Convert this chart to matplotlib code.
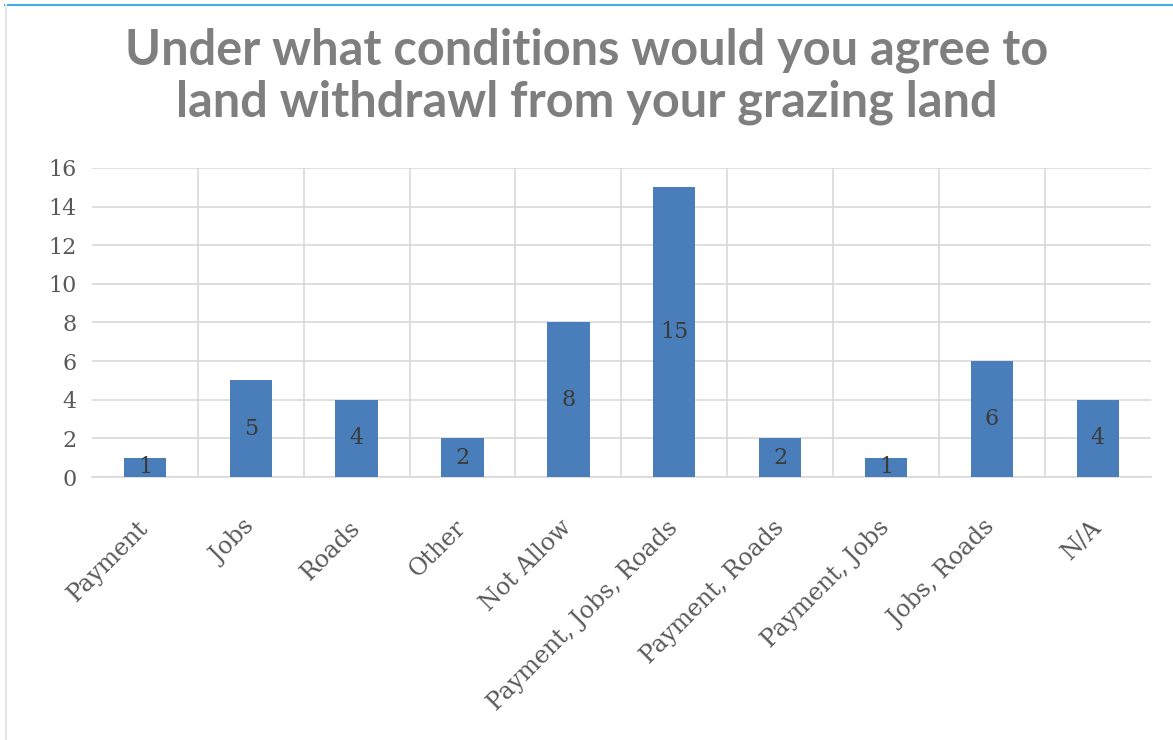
import matplotlib.pyplot as plt
from matplotlib.lines import Line2D
from matplotlib.transforms import ScaledTranslation

# data
categories = ['Payment', 'Jobs', 'Roads', 'Other', 'Not Allow',
              'Payment, Jobs, Roads', 'Payment, Roads', 'Payment, Jobs',
              'Jobs, Roads', 'N/A']
counts = [1, 5, 4, 2, 8, 15, 2, 1, 6, 4]
yticks = [0, 2, 4, 6, 8, 10, 12, 14, 16]

serif = 'DejaVu Serif'

fig = plt.figure(figsize=(11.73, 7.40), dpi=100)
ax = fig.add_axes([0.0784, 0.3554, 0.9026, 0.4176])

x = range(len(categories))
bars = ax.bar(x, counts, width=0.4, color='#4A7EBB', zorder=3)

# value labels sit in the middle of each bar
for rect, v in zip(bars, counts):
    ax.text(rect.get_x() + rect.get_width() / 2, v / 2, str(v),
            ha='center', va='center', fontsize=16, color='#3a3a3a',
            family=serif, zorder=4)

ax.set_xlim(-0.5, len(categories) - 0.5)
ax.set_ylim(0, 16)
ax.set_yticks(yticks)
ax.set_yticklabels([str(t) for t in yticks], family=serif,
                   fontsize=16, color='#595959')

# vertical gridlines between categories
ax.set_xticks([i + 0.5 for i in range(len(categories) - 1)], minor=True)
ax.grid(True, which='minor', axis='x', color='#d9d9d9', lw=1.2, zorder=0)
ax.grid(True, which='major', axis='y', color='#d9d9d9', lw=1.2, zorder=0)

ax.set_xticks(list(x))
ax.set_xticklabels(categories, rotation=45, ha='right', va='center',
                   rotation_mode='anchor', family=serif, fontsize=17,
                   color='#595959')
shift = ScaledTranslation(-6 / 100, 0, fig.dpi_scale_trans)
for lbl in ax.get_xticklabels():
    lbl.set_transform(lbl.get_transform() + shift)
ax.tick_params(axis='both', which='both', length=0)
ax.tick_params(axis='x', pad=34)
ax.tick_params(axis='y', pad=11)

for s in ['top', 'right', 'left']:
    ax.spines[s].set_visible(False)
ax.spines['bottom'].set_color('#d9d9d9')
ax.spines['bottom'].set_linewidth(1.2)

fig.text(0.5, 0.897, 'Under what conditions would you agree to\nland withdrawl from your grazing land',
         ha='center', va='center', fontsize=35, fontweight='bold',
         color='#7f7f7f', family='Lato', linespacing=1.2)

# faint frame of the original screenshot
fig.add_artist(Line2D([0.004, 1.0], [0.993, 0.993], color='#3fb0dc', lw=1.5))
fig.add_artist(Line2D([0.005, 0.005], [0.0, 0.993], color='#e6e6e6', lw=1.5))

fig.savefig('out.png', dpi=100)
